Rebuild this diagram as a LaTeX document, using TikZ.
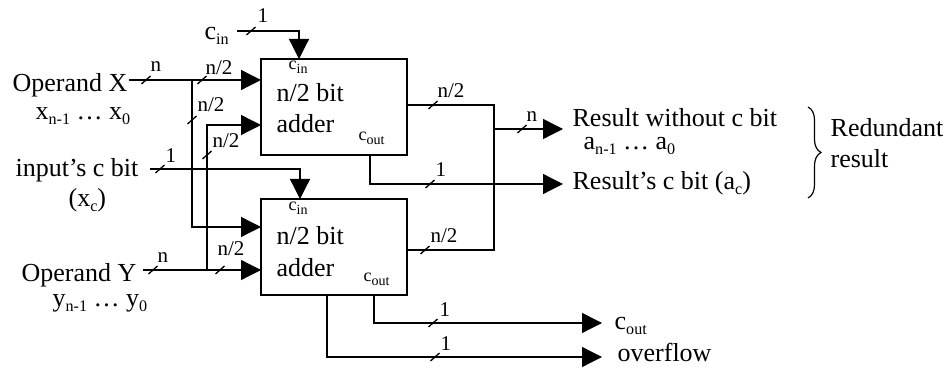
\documentclass[tikz,border=0pt]{standalone}
\usepackage{fontspec}
\setmainfont{Liberation Serif}
\usepackage{graphicx}
\usetikzlibrary{arrows.meta,decorations.pathreplacing}
\newcommand{\sbt}[1]{\raisebox{-0.16em}{\scalebox{0.62}{#1}}}
\newcommand{\sbs}[1]{\raisebox{-0.2em}{\scalebox{0.78}{#1}}}
\newcommand{\tk}[1]{\draw (#1) ++(-4.5,4) -- ++(9,-8);}
\begin{document}
\begin{tikzpicture}[x=0.5pt,y=-0.5pt, line width=0.65pt,
  arr/.style={-{Triangle[length=10pt,width=10pt]}},
  adder/.style={draw, minimum width=73pt, minimum height=48pt, inner sep=0pt},
  txt/.style={anchor=base west, inner sep=0pt, font=\fontsize{13}{15}\selectfont},
  lbl/.style={anchor=base west, inner sep=0pt, font=\fontsize{10.5}{12}\selectfont},
  small/.style={anchor=base west, inner sep=0pt, font=\fontsize{9}{10}\selectfont}]
\useasboundingbox (0,0) rectangle (948,368);
% boxes
\node[adder] (U) at (334,107) {};
\node[adder] (L) at (334,247) {};
\node[txt] (Ut1) at (276,102) {n/2 bit};
\node[txt] (Ut2) at (276,133) {adder};
\node[txt] (Lt1) at (276,245) {n/2 bit};
\node[txt] (Lt2) at (276,277) {adder};
\node[small] (Uci) at (288,70) {c\sbs{in}};
\node[small] (Uco) at (358,141) {c\sbs{out}};
\node[small] (Lci) at (288,211) {c\sbs{in}};
\node[small] (Lco) at (363,282) {c\sbs{out}};
% input labels
\node[txt] (cinT) at (204,40) {c\sbt{in}};
\node[txt] (opX) at (12,92) {Operand X};
\node[txt] (xs) at (35,120) {x\sbt{n-1} … x\sbt{0}};
\node[txt] (icb) at (15,177) {input’s c bit};
\node[txt] (xc) at (68,207) {(x\sbt{c})};
\node[txt] (opY) at (21,282) {Operand Y};
\node[txt] (ys) at (52,307) {y\sbt{n-1} … y\sbt{0}};
% output labels
\node[txt] (r1) at (572,127) {Result without c bit};
\node[txt] (r1s) at (583,150) {a\sbt{n-1} … a\sbt{0}};
\node[txt] (r2) at (572,190) {Result’s c bit (a\sbt{c})};
\node[txt] (red1) at (830,137) {Redundant};
\node[txt] (red2) at (830,168) {result};
\node[txt] (co) at (614,330) {c\sbt{out}};
\node[txt] (ov) at (617,362) {overflow};
% coordinates
\coordinate (cinS) at (237,31);
\coordinate (Ucp) at (299,59);
\coordinate (xS) at (129,80);
\coordinate (xJ) at (192,80);
\coordinate (Ux) at (261,80);
\coordinate (Lx) at (261,227);
\coordinate (yS) at (143,270);
\coordinate (yJ) at (207,270);
\coordinate (Ly) at (261,270);
\coordinate (Uy) at (261,125);
\coordinate (cS) at (150,169);
\coordinate (Lcp) at (300,199);
\coordinate (Us) at (407,105);
\coordinate (Ls) at (407,250);
\coordinate (sT) at (494,105);
\coordinate (sB) at (494,250);
\coordinate (sJ) at (494,129);
\coordinate (nO) at (563,129);
\coordinate (Uco1) at (370,155);
\coordinate (cO) at (563,184);
\coordinate (Lco1) at (374,295);
\coordinate (coO) at (602,323);
\coordinate (Lov) at (327,295);
\coordinate (ovO) at (602,357);
% connectors
\draw[arr] (cinS) -| (Ucp);
\draw[arr] (xS) -- (Ux);
\draw[arr] (xJ) |- (Lx);
\draw[arr] (yS) -- (Ly);
\draw[arr] (yJ) |- (Uy);
\draw[arr] (cS) -| (Lcp);
\draw (Us) -- (sT) -- (sB) -- (Ls);
\draw[arr] (sJ) -- (nO);
\draw[arr] (Uco1) |- (cO);
\draw[arr] (Lco1) |- (coO);
\draw[arr] (Lov) |- (ovO);
% bus ticks and widths
\tk{251,31} \node[lbl] (w1) at (257,23) {1};
\tk{146,80} \node[lbl] (w2) at (150,72) {n};
\tk{202,80} \node[lbl] (w3) at (205,75) {n/2};
\tk{192,120} \node[lbl] (w4) at (197,112) {n/2};
\tk{207,155} \node[lbl] (w5) at (212,148) {n/2};
\tk{160,169} \node[lbl] (w6) at (165,163) {1};
\tk{153,270} \node[lbl] (w7) at (157,263) {n};
\tk{220,270} \node[lbl] (w8) at (217,256) {n/2};
\tk{433,105} \node[lbl] (w9) at (437,98) {n/2};
\tk{425,250} \node[lbl] (w10) at (430,243) {n/2};
\tk{522,129} \node[lbl] (w11) at (526,122) {n};
\tk{430,184} \node[lbl] (w12) at (435,177) {1};
\tk{433,323} \node[lbl] (w13) at (439,317) {1};
\tk{435,357} \node[lbl] (w14) at (440,351) {1};
% brace
\draw[line width=0.6pt, decorate, decoration={brace, amplitude=6.5pt}] (808,107) -- (808,198);
\end{tikzpicture}
\end{document}
